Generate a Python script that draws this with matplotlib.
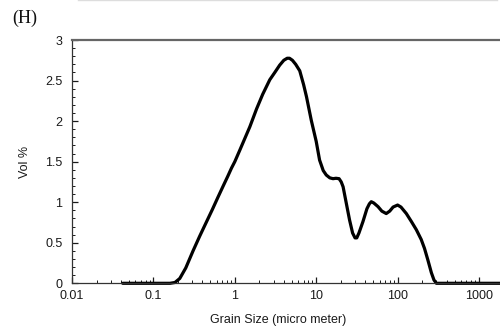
import matplotlib.pyplot as plt
from matplotlib.ticker import LogLocator, MultipleLocator, FixedLocator, FixedFormatter

plt.rcParams['font.family'] = ['Liberation Sans', 'DejaVu Sans']

# Distribuição granulométrica (tamanho em micrômetros, volume em %)
grain_size = [0.042, 0.10, 0.16, 0.184, 0.211, 0.25, 0.307, 0.37, 0.45, 0.53,
              0.62, 0.72, 0.82, 0.91, 1.0, 1.15, 1.53, 1.85, 2.2, 2.69,
              3.1, 3.56, 4.0, 4.4, 4.7, 5.1, 5.6, 6.28, 7.0, 7.6,
              8.7, 10.0, 11.0, 12.2, 13.3, 14.7, 16.1, 17.5, 19.1, 20.3,
              21.4, 23.5, 25.7, 28.0, 30.0, 31.5, 33.5, 37.5, 42.0, 45.0,
              47.5, 51.0, 57.5, 64.0, 72.5, 80.0, 88.0, 100.0, 110.0, 128.0,
              148.0, 170.0, 195.0, 214.0, 235.0, 260.0, 280.0, 300.0, 2000.0]
vol_pct = [0.0, 0.0, 0.0, 0.01, 0.06, 0.19, 0.40, 0.58, 0.76, 0.91,
           1.06, 1.20, 1.32, 1.42, 1.50, 1.64, 1.93, 2.15, 2.33, 2.51,
           2.60, 2.69, 2.75, 2.775, 2.775, 2.75, 2.70, 2.62, 2.45, 2.30,
           2.01, 1.75, 1.52, 1.39, 1.335, 1.30, 1.29, 1.295, 1.29, 1.25,
           1.19, 0.98, 0.78, 0.62, 0.56, 0.56, 0.62, 0.76, 0.92, 0.98,
           1.006, 0.99, 0.945, 0.89, 0.86, 0.89, 0.94, 0.965, 0.94, 0.86,
           0.76, 0.66, 0.54, 0.43, 0.29, 0.13, 0.04, 0.0, 0.0]

x_ticks = [0.01, 0.1, 1, 10, 100, 1000]
x_tick_labels = ['0.01', '0.1', '1', '10', '100', '1000']
y_ticks = [0, 0.5, 1, 1.5, 2, 2.5, 3]
y_tick_labels = ['0', '0.5', '1', '1.5', '2', '2.5', '3']

fig = plt.figure(figsize=(5, 3.32), dpi=100)
ax = fig.add_axes([0.144, 0.1467, 0.856, 0.7328])

ax.plot(grain_size, vol_pct, color='black', lw=2.3, solid_joinstyle='round',
        solid_capstyle='round', clip_on=False)

ax.set_xscale('log')
ax.set_xlim(0.01, 1811)
ax.set_ylim(0, 3)

ax.xaxis.set_major_locator(FixedLocator(x_ticks))
ax.xaxis.set_major_formatter(FixedFormatter(x_tick_labels))
ax.xaxis.set_minor_locator(LogLocator(base=10, subs=range(2, 10), numticks=20))
ax.yaxis.set_major_locator(FixedLocator(y_ticks))
ax.yaxis.set_major_formatter(FixedFormatter(y_tick_labels))
ax.yaxis.set_minor_locator(MultipleLocator(0.1))

ax.tick_params(which='both', direction='in', top=False, right=False,
               labelsize=9, colors='#1a1a1a')
ax.tick_params(which='major', length=4, width=0.9)
ax.tick_params(which='minor', length=2.5, width=0.7)
ax.tick_params(axis='y', which='major', pad=7)
ax.tick_params(axis='x', which='major', pad=5)

ax.spines['right'].set_visible(False)
ax.spines['top'].set_color('#666666')
ax.spines['top'].set_linewidth(1.6)
ax.spines['left'].set_color('#333333')
ax.spines['left'].set_linewidth(0.9)
ax.spines['bottom'].set_color('#333333')
ax.spines['bottom'].set_linewidth(0.9)

ax.set_ylabel('Vol %', fontsize=9, color='#1a1a1a', labelpad=10)
fig.text(0.556, 0.035, 'Grain Size (micro meter)', fontsize=9,
         color='#1a1a1a', ha='center', va='center')

# Rótulo do painel e linha separadora no topo
fig.text(0.024, 0.945, '(H)', fontsize=13, family='Liberation Serif',
         ha='left', va='center', color='#111111')
fig.add_artist(plt.Line2D([0.156, 0.994], [0.999, 0.999], color='#dddddd',
                          lw=1.0, transform=fig.transFigure))

fig.savefig('out.png', dpi=100)
